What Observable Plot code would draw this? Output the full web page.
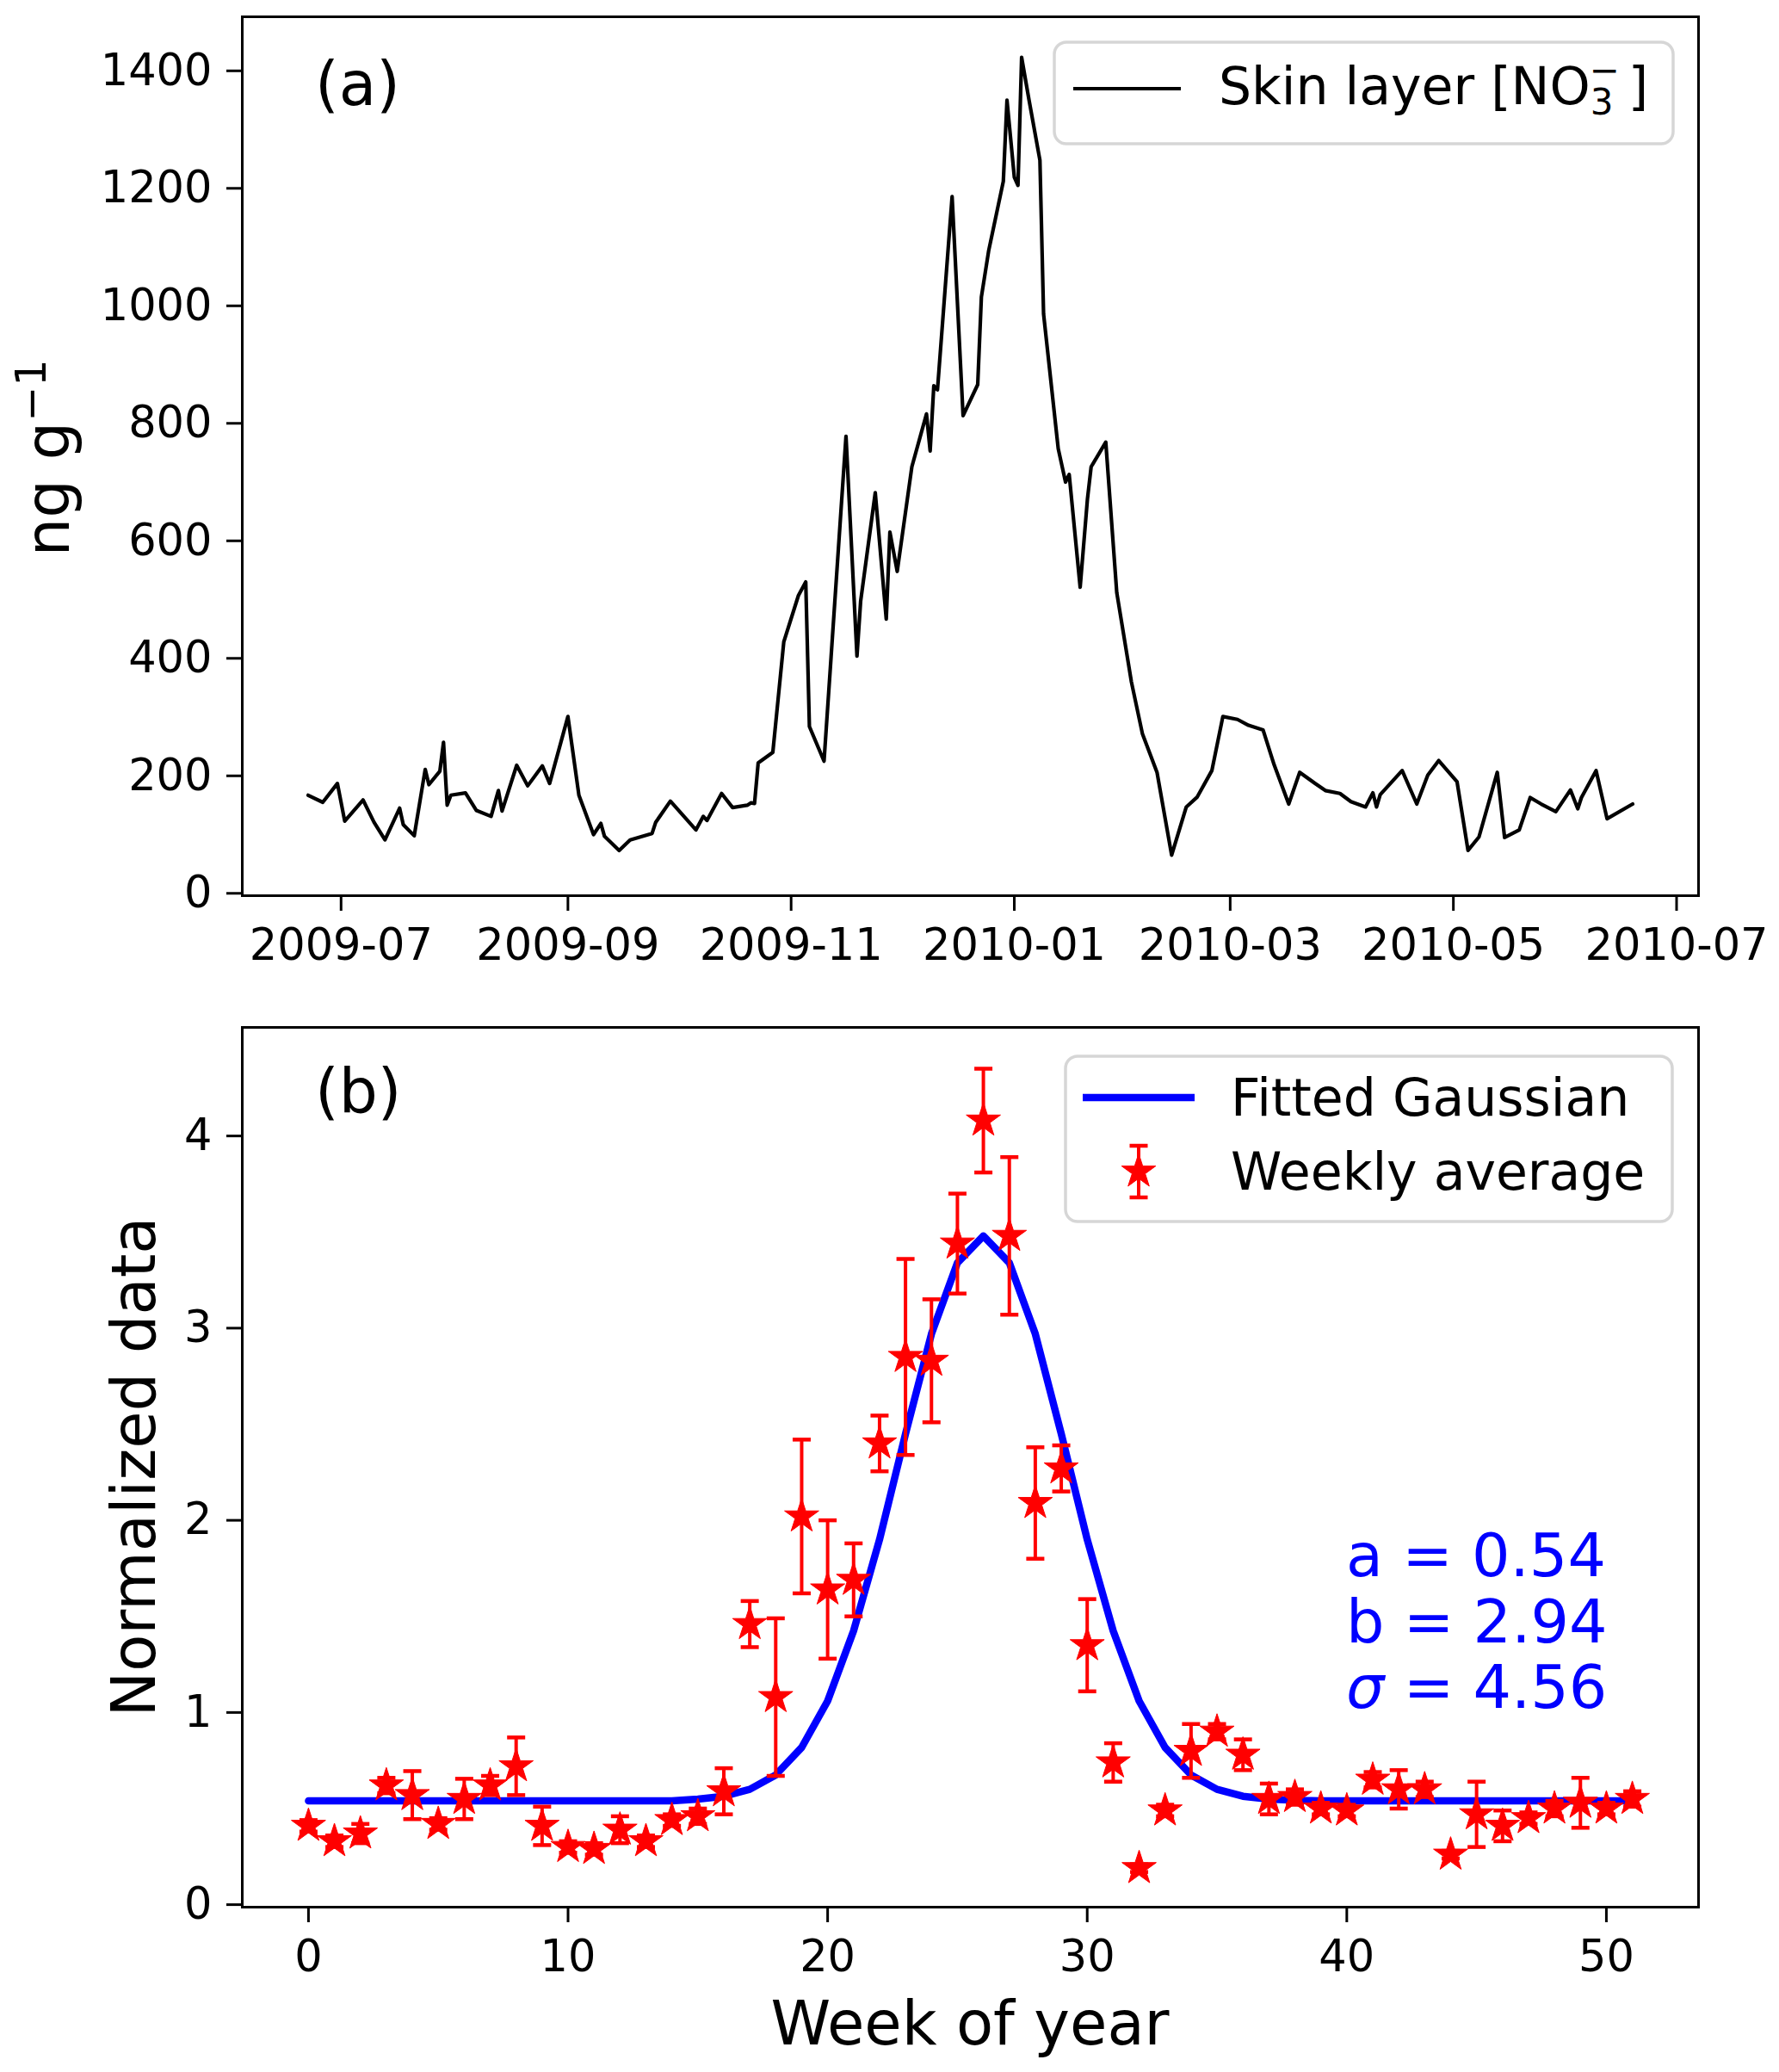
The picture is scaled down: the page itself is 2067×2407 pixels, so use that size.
<!DOCTYPE html>
<html><head><meta charset="utf-8">
<script src="https://cdn.jsdelivr.net/npm/d3@7"></script>
<script src="https://cdn.jsdelivr.net/npm/@observablehq/plot@0.6"></script>
<style>
html,body{margin:0;padding:0;background:#fff;overflow:hidden;}
#wrap{width:2067px;height:2407px;background:#fff;}
#wrap svg{display:block;max-width:none;}
</style></head><body><div id="wrap"></div>
<script>
// ---------- Panel (a): skin layer nitrate ----------
const skinDates = [
"2009-06-22","2009-06-26","2009-06-30","2009-07-02","2009-07-07","2009-07-10","2009-07-13","2009-07-17","2009-07-18","2009-07-21",
"2009-07-24","2009-07-25","2009-07-28","2009-07-29","2009-07-30","2009-07-31","2009-08-04","2009-08-07","2009-08-11","2009-08-13",
"2009-08-14","2009-08-18","2009-08-21","2009-08-25","2009-08-27","2009-09-01","2009-09-04","2009-09-08","2009-09-10","2009-09-11",
"2009-09-15","2009-09-18","2009-09-24","2009-09-25","2009-09-29","2009-10-06","2009-10-08","2009-10-09","2009-10-13","2009-10-16",
"2009-10-20","2009-10-21","2009-10-22","2009-10-23","2009-10-27","2009-10-30","2009-11-03","2009-11-05","2009-11-06","2009-11-10",
"2009-11-16","2009-11-19","2009-11-20","2009-11-24","2009-11-27","2009-11-28","2009-11-30","2009-12-04","2009-12-08","2009-12-09",
"2009-12-10","2009-12-11","2009-12-15","2009-12-18","2009-12-22","2009-12-23","2009-12-25","2009-12-29","2009-12-30","2010-01-01",
"2010-01-02","2010-01-03","2010-01-05","2010-01-08","2010-01-09","2010-01-13","2010-01-15","2010-01-16","2010-01-19","2010-01-21",
"2010-01-22","2010-01-26","2010-01-29","2010-02-02","2010-02-05","2010-02-09","2010-02-13","2010-02-17","2010-02-20","2010-02-24",
"2010-02-27","2010-03-03","2010-03-06","2010-03-10","2010-03-13","2010-03-17","2010-03-20","2010-03-24","2010-03-27","2010-03-31",
"2010-04-03","2010-04-07","2010-04-09","2010-04-10","2010-04-11","2010-04-17","2010-04-21","2010-04-24","2010-04-27","2010-05-02",
"2010-05-05","2010-05-08","2010-05-13","2010-05-15","2010-05-19","2010-05-22","2010-05-25","2010-05-29","2010-06-02","2010-06-04",
"2010-06-05","2010-06-09","2010-06-12","2010-06-19"];
const skinValues = [
167,155,187,123,159,121,91,145,117,98,
211,185,208,257,150,167,171,141,131,175,
140,218,183,217,187,301,167,100,119,97,
73,91,102,121,157,108,131,124,170,146,
150,154,153,222,240,428,507,530,284,225,
778,404,497,682,467,615,548,726,816,753,
864,857,1186,813,866,1015,1094,1212,1350,1219,
1205,1423,1351,1248,986,757,700,713,521,672,
726,768,512,360,272,206,65,147,164,209,
301,296,286,278,219,152,206,188,175,170,
156,147,171,147,168,209,152,201,226,190,
73,96,206,95,108,163,152,139,176,144,
163,209,127,152];
const tickDatesA = ["2009-07-01","2009-09-01","2009-11-01","2010-01-01","2010-03-01","2010-05-01","2010-07-01"];
const yTicksA = [0,200,400,600,800,1000,1200,1400];

// ---------- Panel (b): weekly averages ----------
const weeks = [0,1,2,3,4,5,6,7,8,9,10,11,12,13,14,15,16,17,18,19,20,21,22,23,24,25,
               26,27,28,29,30,31,32,33,34,35,36,37,38,39,40,41,42,43,44,45,46,47,48,49,50,51];
const weeklyAvg = [0.41,0.33,0.37,0.62,0.57,0.42,0.55,0.62,0.72,0.41,
                   0.30,0.29,0.39,0.33,0.44,0.46,0.59,1.46,1.08,2.02,
                   1.64,1.69,2.40,2.85,2.83,3.44,4.08,3.48,2.09,2.27,
                   1.35,0.74,0.19,0.49,0.80,0.90,0.78,0.55,0.56,0.50,
                   0.49,0.65,0.60,0.60,0.26,0.47,0.41,0.45,0.50,0.53,
                   0.50,0.55];
const weeklyErr = [0.03,0.03,0.05,0.04,0.125,0.03,0.105,0.05,0.15,0.10,
                   0.03,0.03,0.07,0.03,0.03,0.04,0.12,0.12,0.41,0.40,
                   0.36,0.19,0.145,0.51,0.32,0.26,0.27,0.41,0.29,0.12,
                   0.24,0.10,0.02,0.03,0.14,0.04,0.08,0.08,0.04,0.03,
                   0.03,0.04,0.10,0.04,0.02,0.17,0.08,0.03,0.04,0.13,
                   0.03,0.04];
const fittedGaussian = [0.54,0.54,0.54,0.54,0.54,0.54,0.54,0.54,0.54,0.54,
                        0.54,0.54,0.54,0.54,0.54,0.549,0.564,0.600,0.675,0.818,
                        1.06,1.425,1.90,2.45,2.97,3.34,3.48,3.34,2.97,2.45,
                        1.90,1.425,1.06,0.818,0.675,0.600,0.564,0.549,0.543,0.54,
                        0.54,0.54,0.54,0.54,0.54,0.54,0.54,0.54,0.54,0.54,
                        0.54,0.54];
const xTicksB = [0,10,20,30,40,50];
const yTicksB = [0,1,2,3,4];
const fitParams = [["a","0.54"],["b","2.94"],["σ","4.56"]];

const FONT = "DejaVu Sans";
const W = 2067;
const HA = 1160, HB = 2407 - 1160;
const ML = 281, MR = W - 1973;
const intFmt = d3.format("d");

// ---------- Build panel (a) ----------
const dataA = skinDates.map((d, i) => ({date: new Date(d + "T00:00:00Z"), v: skinValues[i]}));
const plotA = Plot.plot({
  width: W, height: HA,
  marginTop: 19, marginBottom: HA - 1040, marginLeft: ML, marginRight: MR,
  style: {fontFamily: FONT, color: "black", background: "white", overflow: "visible"},
  x: {type: "utc", domain: [new Date("2009-06-04T00:00:00Z"), new Date("2010-07-07T00:00:00Z")]},
  y: {domain: [-4, 1492]},
  marks: [
    Plot.line(dataA, {x: "date", y: "v", stroke: "black", strokeWidth: 4.2, strokeLinejoin: "round"}),
    Plot.frame({stroke: "black", strokeWidth: 3}),
    Plot.axisX({ticks: tickDatesA.map(d => new Date(d + "T00:00:00Z")), tickFormat: d3.utcFormat("%Y-%m"),
                tickSize: 18, tickPadding: 20, strokeWidth: 3, fontSize: 51, label: null}),
    Plot.axisY({ticks: yTicksA, tickFormat: intFmt, tickSize: 18, tickPadding: 17, strokeWidth: 3, fontSize: 51, label: null})
  ]
});

// ---------- Build panel (b) ----------
const dataB = weeks.map((w, i) => ({week: w, avg: weeklyAvg[i], err: weeklyErr[i], fit: fittedGaussian[i]}));
const capSymbol = {draw(ctx, size) { const w = Math.sqrt(size / Math.PI); ctx.moveTo(-w, 0); ctx.lineTo(w, 0); }};
const plotB = Plot.plot({
  width: W, height: HB,
  marginTop: 1193 - HA, marginBottom: HB - (2215 - HA), marginLeft: ML, marginRight: MR,
  style: {fontFamily: FONT, color: "black", background: "white", overflow: "visible"},
  x: {domain: [-2.55, 53.55]},
  y: {domain: [-0.013, 4.565]},
  marks: [
    Plot.line(dataB, {x: "week", y: "fit", stroke: "blue", strokeWidth: 8.5, strokeLinejoin: "round"}),
    Plot.ruleX(dataB, {x: "week", y1: d => d.avg - d.err, y2: d => d.avg + d.err, stroke: "red", strokeWidth: 4}),
    Plot.dot(dataB, {x: "week", y: d => d.avg + d.err, symbol: capSymbol, r: 10.5, stroke: "red", strokeWidth: 4.5, fill: "none"}),
    Plot.dot(dataB, {x: "week", y: d => d.avg - d.err, symbol: capSymbol, r: 10.5, stroke: "red", strokeWidth: 4.5, fill: "none"}),
    Plot.dot(dataB, {x: "week", y: "avg", symbol: "star", r: 12.5, fill: "red", stroke: "red", strokeWidth: 1}),
    Plot.frame({stroke: "black", strokeWidth: 3}),
    Plot.axisX({ticks: xTicksB, tickFormat: intFmt, tickSize: 18, tickPadding: 20, strokeWidth: 3, fontSize: 51, label: null}),
    Plot.axisY({ticks: yTicksB, tickFormat: intFmt, tickSize: 18, tickPadding: 17, strokeWidth: 3, fontSize: 51, label: null})
  ]
});

const wrap = document.getElementById("wrap");
wrap.appendChild(plotA);
wrap.appendChild(plotB);

function txt(sel, x, y, size, fill, anchor) {
  return sel.append("text").attr("x", x).attr("y", y).attr("font-family", FONT).attr("font-size", size)
    .attr("fill", fill).attr("text-anchor", anchor || "start");
}

// ---------- Decorations panel (a) ----------
const sa = d3.select(plotA);
txt(sa, 366, 122, 71, "black").text("(a)");
// y label: ng g^-1
const yla = sa.append("text").attr("transform", "translate(80,532) rotate(-90)")
  .attr("text-anchor", "middle").attr("font-family", FONT).attr("font-size", 70.5).attr("fill", "black");
yla.append("tspan").text("ng g");
yla.append("tspan").attr("font-size", 49).attr("dy", -27).text("−1");
// legend (a)
const la = sa.append("g");
la.append("rect").attr("x", 1225).attr("y", 49).attr("width", 719).attr("height", 118).attr("rx", 14)
  .attr("fill", "white").attr("fill-opacity", 0.8).attr("stroke", "#d6d6d6").attr("stroke-width", 3.5);
la.append("line").attr("x1", 1247).attr("x2", 1372).attr("y1", 103).attr("y2", 103)
  .attr("stroke", "black").attr("stroke-width", 4.2);
const lt = txt(la, 1416, 121, 60, "black");
lt.append("tspan").text("Skin layer [NO");
lt.append("tspan").attr("font-size", 42).attr("dy", 12).text("3");
lt.append("tspan").attr("font-size", 42).attr("dx", -28).attr("dy", -37).text("−");
lt.append("tspan").attr("dx", 10).attr("dy", 25).text("]");

// ---------- Decorations panel (b) ----------
const sb = d3.select(plotB);
txt(sb, 366, 1292 - HA, 71, "black").text("(b)");
sb.append("text").attr("transform", `translate(180,${1704 - HA}) rotate(-90)`)
  .attr("text-anchor", "middle").attr("font-family", FONT).attr("font-size", 70.5).attr("fill", "black")
  .text("Normalized data");
txt(sb, 1127, 2375 - HA, 70.5, "black", "middle").text("Week of year");
// fit parameters
const baseY = [1831 - HA, 1908 - HA, 1984 - HA];
fitParams.forEach(([k, v], i) => {
  const t = txt(sb, 1564, baseY[i], 70, "blue");
  t.append("tspan").attr("font-style", k === "σ" ? "italic" : "normal").text(k);
  t.append("tspan").text(" = " + v);
});
// legend (b)
const lb = sb.append("g");
lb.append("rect").attr("x", 1238).attr("y", 1227 - HA).attr("width", 705).attr("height", 192).attr("rx", 14)
  .attr("fill", "white").attr("fill-opacity", 0.8).attr("stroke", "#d6d6d6").attr("stroke-width", 3.5);
lb.append("line").attr("x1", 1258).attr("x2", 1388).attr("y1", 1275 - HA).attr("y2", 1275 - HA)
  .attr("stroke", "blue").attr("stroke-width", 8.5);
const sy = 1361 - HA, sx = 1323;
lb.append("line").attr("x1", sx).attr("x2", sx).attr("y1", sy - 30).attr("y2", sy + 30).attr("stroke", "red").attr("stroke-width", 4);
lb.append("line").attr("x1", sx - 10.5).attr("x2", sx + 10.5).attr("y1", sy - 30).attr("y2", sy - 30).attr("stroke", "red").attr("stroke-width", 4.5);
lb.append("line").attr("x1", sx - 10.5).attr("x2", sx + 10.5).attr("y1", sy + 30).attr("y2", sy + 30).attr("stroke", "red").attr("stroke-width", 4.5);
lb.append("path").attr("transform", `translate(${sx},${sy})`)
  .attr("d", d3.symbol(d3.symbolStar, Math.PI * 12.5 * 12.5)()).attr("fill", "red").attr("stroke", "red").attr("stroke-width", 1);
txt(lb, 1430, 1296 - HA, 60, "black").text("Fitted Gaussian");
txt(lb, 1430, 1382 - HA, 60, "black").text("Weekly average");
</script>
</body></html>
